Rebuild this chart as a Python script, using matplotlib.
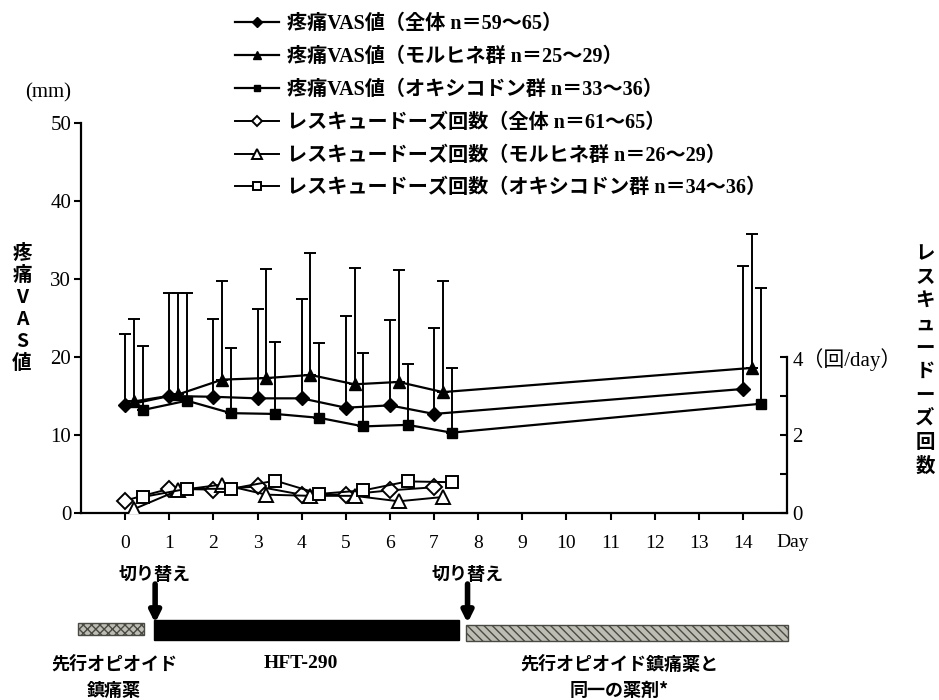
# -*- coding: utf-8 -*-
"""疼痛VAS値・レスキュードーズ回数の推移"""

import numpy as np
import matplotlib
matplotlib.use('Agg')
import matplotlib.pyplot as plt
from matplotlib.patches import Rectangle

FAM = ['Liberation Serif', 'Noto Sans CJK JP']
CJK = ['Noto Sans CJK JP', 'DejaVu Sans']
plt.rcParams['font.family'] = FAM
plt.rcParams['axes.unicode_minus'] = False

# ---- データ ----
days = [0, 1, 2, 3, 4, 5, 6, 7, 14]
vas_all = [13.8, 15.0, 14.9, 14.7, 14.7, 13.5, 13.8, 12.7, 15.9]
vas_all_sd = [9.1, 13.2, 10.0, 11.5, 12.7, 11.8, 10.9, 11.0, 15.8]
vas_mor = [14.3, 15.2, 17.1, 17.3, 17.7, 16.5, 16.8, 15.5, 18.6]
vas_mor_sd = [10.6, 13.0, 12.6, 14.0, 15.6, 14.9, 14.3, 14.3, 17.2]
vas_oxy = [13.2, 14.4, 12.8, 12.7, 12.2, 11.1, 11.3, 10.3, 14.0]
vas_oxy_sd = [8.2, 13.8, 8.4, 9.2, 9.6, 9.4, 7.8, 8.3, 14.8]

rescue_days = [0, 1, 2, 3, 4, 5, 6, 7]
rescue_all = [0.32, 0.62, 0.60, 0.68, 0.47, 0.47, 0.58, 0.66]
rescue_mor = [0.10, 0.58, 0.73, 0.47, 0.44, 0.44, 0.30, 0.41]
rescue_oxy = [0.41, 0.62, 0.62, 0.83, 0.49, 0.58, 0.81, 0.79]

labels = [
    '疼痛VAS値（全体 n＝59〜65）',
    '疼痛VAS値（モルヒネ群 n＝25〜29）',
    '疼痛VAS値（オキシコドン群 n＝33〜36）',
    'レスキュードーズ回数（全体 n＝61〜65）',
    'レスキュードーズ回数（モルヒネ群 n＝26〜29）',
    'レスキュードーズ回数（オキシコドン群 n＝34〜36）',
]

# 投与期間（Day）
phase_names = ['先行オピオイド\n鎮痛薬', 'HFT-290', '先行オピオイド鎮痛薬と\n同一の薬剤*']
phase_start = [-1.07, 0.66, 7.73]
phase_end = [0.43, 7.57, 15.03]
switch_days = [0.68, 7.76]

# ---- 描画 ----
fig = plt.figure(figsize=(9.39, 7.0), dpi=100)
ax_l, ax_w = 81 / 939, 706 / 939
ax = fig.add_axes([ax_l, 1 - 513 / 700, ax_w, 390 / 700])
ax2 = ax.twinx()

offsets = [0.0, 0.2, 0.4]
marks = ['D', '^', 's']
msizes = [7, 9, 7]
handles = []
for (m, sd), off, mk, ms in zip([(vas_all, vas_all_sd), (vas_mor, vas_mor_sd), (vas_oxy, vas_oxy_sd)],
                                 offsets, marks, msizes):
    x = np.array(days) + off
    ax.errorbar(x, m, yerr=[np.zeros(len(sd)), sd], fmt='none', ecolor='k',
                elinewidth=1.4, capsize=4, capthick=1.4, zorder=2)
    h, = ax.plot(x, m, color='k', lw=1.6, marker=mk, ms=ms, mfc='k', mec='k', zorder=3)
    handles.append(h)

for r, off, mk, ms in zip([rescue_all, rescue_mor, rescue_oxy], offsets, marks, msizes):
    x = np.array(rescue_days) + off
    h, = ax2.plot(x, r, color='k', lw=1.4, marker=mk, ms=ms + 1, mfc='white', mec='k',
                  mew=1.4, zorder=3)
    handles.append(h)

# 軸
ax.set_xlim(-1, 15)
ax.set_ylim(0, 50)
ax2.set_ylim(0, 10)
for s in ['top', 'right']:
    ax.spines[s].set_visible(False)
for s in ['top', 'left', 'bottom']:
    ax2.spines[s].set_visible(False)
ax2.spines['right'].set_bounds(0, 4)
for a in (ax, ax2):
    for s in a.spines.values():
        s.set_linewidth(1.6)

ax.set_xticks(range(0, 15))
ax.set_xticklabels([str(d) for d in range(0, 15)], fontsize=14)
ax.set_yticks([0, 10, 20, 30, 40, 50])
ax.tick_params(axis='y', labelsize=15, length=5, width=1.5, pad=2)
ax.tick_params(axis='x', length=5, width=1.5, pad=11)

ax2.set_yticks([0, 2, 4])
ax2.set_yticks([1, 3], minor=True)
ax2.set_yticklabels(['0', '2', '4（回/day）'], fontsize=15)
ax2.tick_params(axis='y', which='both', direction='in', length=5, width=1.5, pad=4)

ax.annotate('Day', xy=(14.75, 0), xycoords='data', xytext=(0, -21),
            textcoords='offset points', ha='left', va='center', fontsize=14)
fig.text(48 / 939, 1 - 93 / 700, '(mm)', ha='center', va='center', fontsize=15)

fig.text(22 / 939, 1 - 308 / 700, '\n'.join('疼痛VAS値'), ha='center', va='center',
         fontsize=14, family=CJK, weight='bold', linespacing=1.2)
fig.text(925 / 939, 1 - 360 / 700, '\n'.join('レスキュードーズ回数'), ha='center', va='center',
         fontsize=14, family=CJK, weight='bold', linespacing=1.3)

ax.legend(handles, labels, loc='upper left', bbox_to_anchor=(235 / 939, 1 - 14 / 700),
          bbox_transform=fig.transFigure, frameon=False, borderpad=0, borderaxespad=0,
          handlelength=2.2, handletextpad=0.4, labelspacing=0.64, markerscale=0.7,
          prop={'family': FAM, 'size': 14.5, 'weight': 'bold'})

# ---- 投与スケジュール ----
tl = fig.add_axes([ax_l, 0, ax_w, 140 / 700])
tl.set_xlim(-1, 15)
tl.set_ylim(700, 560)
tl.axis('off')

bar_style = [
    dict(fc='#bdbdb4', ec='#4a4a44', hatch='xxxx', lw=1.0, top=623, h=12),
    dict(fc='black', ec='black', hatch=None, lw=1.0, top=620, h=20),
    dict(fc='#bdbdb4', ec='#4a4a44', hatch='\\\\\\\\', lw=1.0, top=625, h=16),
]
for st, en, bs in zip(phase_start, phase_end, bar_style):
    tl.add_patch(Rectangle((st, bs['top']), en - st, bs['h'], facecolor=bs['fc'],
                           edgecolor=bs['ec'], hatch=bs['hatch'], lw=bs['lw'], clip_on=False))

for sd in switch_days:
    tl.annotate('', xy=(sd, 623), xytext=(sd, 584),
                arrowprops=dict(arrowstyle='-|>', lw=4, color='k', mutation_scale=16,
                                shrinkA=0, shrinkB=0))
    tl.text(sd, 575, '切り替え', ha='center', va='center', fontsize=13, family=CJK,
            weight='bold')

name_x = [-0.25, 3.99, 11.2]
for nx, nm in zip(name_x, phase_names):
    tl.text(nx, 655, nm, ha='center', va='top', fontsize=13 if nm != 'HFT-290' else 14,
            family=FAM if nm == 'HFT-290' else CJK, weight='bold', linespacing=1.45,
            multialignment='center', clip_on=False)

fig.savefig('out.png', dpi=100, facecolor='white')
